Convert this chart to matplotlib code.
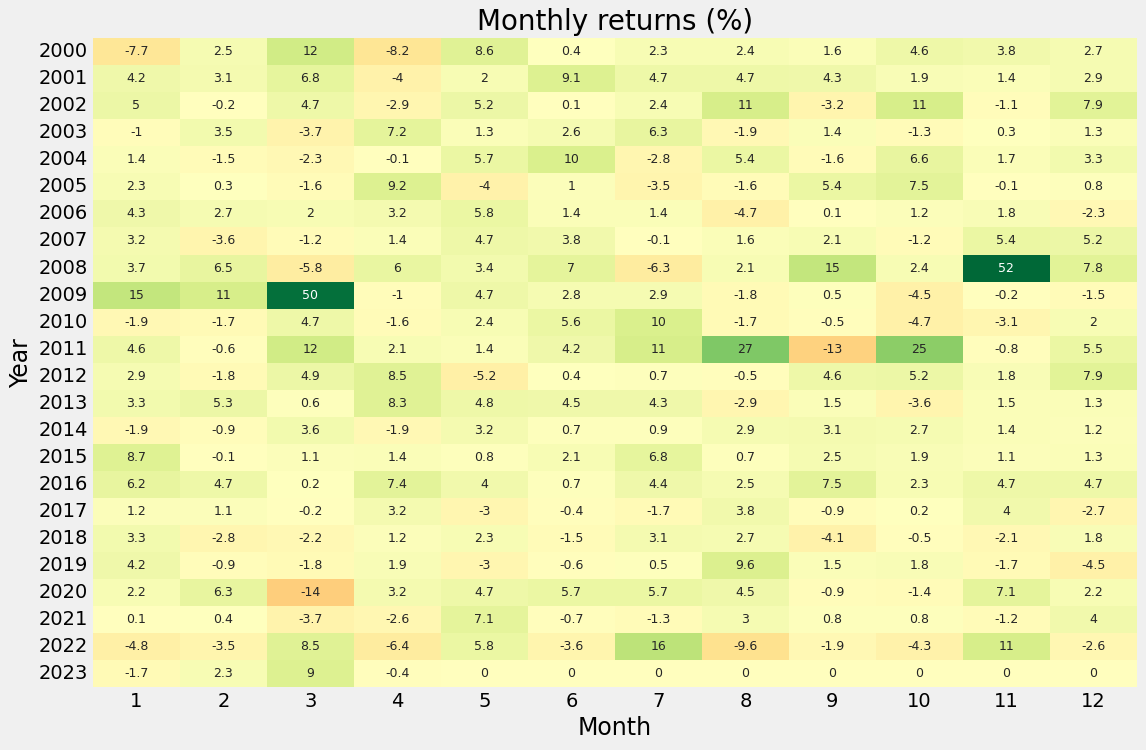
"""Heatmap of monthly returns (%) by year."""
import matplotlib
matplotlib.use("Agg")
import matplotlib.pyplot as plt
import numpy as np
import pandas as pd
import seaborn as sns

years = list(range(2000, 2024))
months = list(range(1, 13))

returns = [
    [-7.7, 2.5, 12, -8.2, 8.6, 0.4, 2.3, 2.4, 1.6, 4.6, 3.8, 2.7],
    [4.2, 3.1, 6.8, -4, 2, 9.1, 4.7, 4.7, 4.3, 1.9, 1.4, 2.9],
    [5, -0.2, 4.7, -2.9, 5.2, 0.1, 2.4, 11, -3.2, 11, -1.1, 7.9],
    [-1, 3.5, -3.7, 7.2, 1.3, 2.6, 6.3, -1.9, 1.4, -1.3, 0.3, 1.3],
    [1.4, -1.5, -2.3, -0.1, 5.7, 10, -2.8, 5.4, -1.6, 6.6, 1.7, 3.3],
    [2.3, 0.3, -1.6, 9.2, -4, 1, -3.5, -1.6, 5.4, 7.5, -0.1, 0.8],
    [4.3, 2.7, 2, 3.2, 5.8, 1.4, 1.4, -4.7, 0.1, 1.2, 1.8, -2.3],
    [3.2, -3.6, -1.2, 1.4, 4.7, 3.8, -0.1, 1.6, 2.1, -1.2, 5.4, 5.2],
    [3.7, 6.5, -5.8, 6, 3.4, 7, -6.3, 2.1, 15, 2.4, 52, 7.8],
    [15, 11, 50, -1, 4.7, 2.8, 2.9, -1.8, 0.5, -4.5, -0.2, -1.5],
    [-1.9, -1.7, 4.7, -1.6, 2.4, 5.6, 10, -1.7, -0.5, -4.7, -3.1, 2],
    [4.6, -0.6, 12, 2.1, 1.4, 4.2, 11, 27, -13, 25, -0.8, 5.5],
    [2.9, -1.8, 4.9, 8.5, -5.2, 0.4, 0.7, -0.5, 4.6, 5.2, 1.8, 7.9],
    [3.3, 5.3, 0.6, 8.3, 4.8, 4.5, 4.3, -2.9, 1.5, -3.6, 1.5, 1.3],
    [-1.9, -0.9, 3.6, -1.9, 3.2, 0.7, 0.9, 2.9, 3.1, 2.7, 1.4, 1.2],
    [8.7, -0.1, 1.1, 1.4, 0.8, 2.1, 6.8, 0.7, 2.5, 1.9, 1.1, 1.3],
    [6.2, 4.7, 0.2, 7.4, 4, 0.7, 4.4, 2.5, 7.5, 2.3, 4.7, 4.7],
    [1.2, 1.1, -0.2, 3.2, -3, -0.4, -1.7, 3.8, -0.9, 0.2, 4, -2.7],
    [3.3, -2.8, -2.2, 1.2, 2.3, -1.5, 3.1, 2.7, -4.1, -0.5, -2.1, 1.8],
    [4.2, -0.9, -1.8, 1.9, -3, -0.6, 0.5, 9.6, 1.5, 1.8, -1.7, -4.5],
    [2.2, 6.3, -14, 3.2, 4.7, 5.7, 5.7, 4.5, -0.9, -1.4, 7.1, 2.2],
    [0.1, 0.4, -3.7, -2.6, 7.1, -0.7, -1.3, 3, 0.8, 0.8, -1.2, 4],
    [-4.8, -3.5, 8.5, -6.4, 5.8, -3.6, 16, -9.6, -1.9, -4.3, 11, -2.6],
    [-1.7, 2.3, 9, -0.4, 0, 0, 0, 0, 0, 0, 0, 0],
]


def main():
    plt.style.use("fivethirtyeight")
    df = pd.DataFrame(np.array(returns), index=years, columns=months)

    fig = plt.figure(figsize=(11.46, 7.5), dpi=100)
    ax = fig.add_axes([0.081, 0.084, 0.911, 0.865])
    sns.heatmap(df, ax=ax, annot=True, fmt=".2g", cmap="RdYlGn", center=0,
                cbar=False, annot_kws={"size": 9})
    ax.set_title("Monthly returns (%)", fontsize=20, pad=6)
    ax.set_xlabel("Month", fontsize=17)
    ax.set_ylabel("Year", fontsize=17)
    ax.tick_params(axis="both", labelsize=14, length=0)
    ax.set_yticklabels(ax.get_yticklabels(), rotation=0)
    ax.set_xticklabels(ax.get_xticklabels(), rotation=0)

    fig.savefig("out.png", dpi=100)


if __name__ == "__main__":
    main()
